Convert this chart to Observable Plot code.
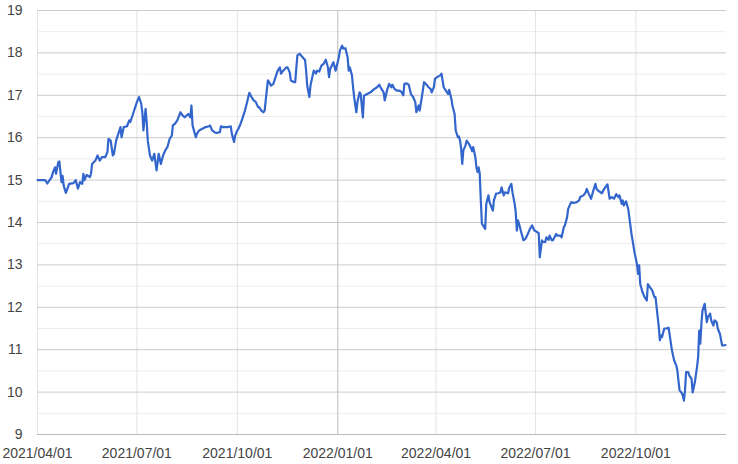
<!DOCTYPE html>
<html>
<head>
<meta charset="utf-8">
<script src="https://cdn.jsdelivr.net/npm/d3@7"></script>
<script src="https://cdn.jsdelivr.net/npm/@observablehq/plot@0.6"></script>
<style>
  html, body { margin: 0; padding: 0; background: #fff; }
  #chart { width: 738px; height: 464px; }
</style>
</head>
<body>
<div id="chart"></div>
<script>
const dates = [
  "2021-04-01","2021-04-08","2021-04-10","2021-04-14","2021-04-15","2021-04-17","2021-04-18","2021-04-20","2021-04-21","2021-04-23",
  "2021-04-24","2021-04-25","2021-04-27","2021-04-30","2021-05-04","2021-05-06","2021-05-08","2021-05-10","2021-05-12","2021-05-13",
  "2021-05-14","2021-05-16","2021-05-19","2021-05-20","2021-05-21","2021-05-24","2021-05-26","2021-05-28","2021-05-30","2021-06-02",
  "2021-06-04","2021-06-05","2021-06-07","2021-06-09","2021-06-10","2021-06-12","2021-06-14","2021-06-16","2021-06-17","2021-06-19",
  "2021-06-22","2021-06-24","2021-06-25","2021-06-28","2021-07-01","2021-07-03","2021-07-05","2021-07-06","2021-07-07","2021-07-09",
  "2021-07-10","2021-07-11","2021-07-13","2021-07-15","2021-07-17","2021-07-19","2021-07-21","2021-07-23","2021-07-25","2021-07-27",
  "2021-07-29","2021-07-31","2021-08-02","2021-08-03","2021-08-05","2021-08-07","2021-08-10","2021-08-12","2021-08-14","2021-08-17",
  "2021-08-19","2021-08-20","2021-08-21","2021-08-24","2021-08-25","2021-08-27","2021-08-30","2021-09-02","2021-09-05","2021-09-06",
  "2021-09-08","2021-09-10","2021-09-12","2021-09-15","2021-09-16","2021-09-18","2021-09-22","2021-09-25","2021-09-26","2021-09-28",
  "2021-09-29","2021-10-01","2021-10-02","2021-10-04","2021-10-06","2021-10-08","2021-10-10","2021-10-12","2021-10-14","2021-10-16",
  "2021-10-18","2021-10-20","2021-10-21","2021-10-23","2021-10-25","2021-10-26","2021-10-27","2021-10-29","2021-10-30","2021-11-01",
  "2021-11-03","2021-11-05","2021-11-07","2021-11-09","2021-11-10","2021-11-12","2021-11-15","2021-11-16","2021-11-18","2021-11-19",
  "2021-11-22","2021-11-23","2021-11-25","2021-11-27","2021-11-29","2021-12-01","2021-12-02","2021-12-03","2021-12-04","2021-12-06",
  "2021-12-07","2021-12-09","2021-12-10","2021-12-12","2021-12-13","2021-12-15","2021-12-17","2021-12-19","2021-12-21","2021-12-23",
  "2021-12-24","2021-12-25","2021-12-28","2021-12-30","2022-01-02","2022-01-03","2022-01-05","2022-01-06","2022-01-08","2022-01-10",
  "2022-01-11","2022-01-12","2022-01-14","2022-01-15","2022-01-16","2022-01-18","2022-01-19","2022-01-21","2022-01-22","2022-01-24",
  "2022-01-25","2022-01-28","2022-01-31","2022-02-03","2022-02-06","2022-02-08","2022-02-10","2022-02-12","2022-02-13","2022-02-15",
  "2022-02-17","2022-02-19","2022-02-20","2022-02-22","2022-02-24","2022-02-26","2022-02-28","2022-03-02","2022-03-03","2022-03-05",
  "2022-03-07","2022-03-09","2022-03-11","2022-03-13","2022-03-14","2022-03-16","2022-03-17","2022-03-19","2022-03-21","2022-03-24",
  "2022-03-25","2022-03-27","2022-03-28","2022-03-30","2022-03-31","2022-04-02","2022-04-05","2022-04-06","2022-04-08","2022-04-10",
  "2022-04-12","2022-04-13","2022-04-15","2022-04-16","2022-04-18","2022-04-19","2022-04-21","2022-04-22","2022-04-23","2022-04-24",
  "2022-04-25","2022-04-26","2022-04-28","2022-04-29","2022-05-01","2022-05-03","2022-05-04","2022-05-05","2022-05-07","2022-05-08",
  "2022-05-09","2022-05-10","2022-05-11","2022-05-12","2022-05-13","2022-05-14","2022-05-16","2022-05-17","2022-05-19","2022-05-20",
  "2022-05-23","2022-05-24","2022-05-26","2022-05-28","2022-05-30","2022-05-31","2022-06-02","2022-06-03","2022-06-06","2022-06-07",
  "2022-06-09","2022-06-10","2022-06-12","2022-06-13","2022-06-14","2022-06-15","2022-06-16","2022-06-18","2022-06-20","2022-06-22",
  "2022-06-24","2022-06-26","2022-06-28","2022-06-30","2022-07-01","2022-07-04","2022-07-05","2022-07-07","2022-07-08","2022-07-10",
  "2022-07-11","2022-07-13","2022-07-14","2022-07-16","2022-07-17","2022-07-20","2022-07-21","2022-07-24","2022-07-25","2022-07-27",
  "2022-07-28","2022-07-30","2022-07-31","2022-08-02","2022-08-03","2022-08-05","2022-08-08","2022-08-10","2022-08-11","2022-08-14",
  "2022-08-16","2022-08-17","2022-08-19","2022-08-21","2022-08-23","2022-08-25","2022-08-26","2022-08-28","2022-08-31","2022-09-01",
  "2022-09-04","2022-09-05","2022-09-07","2022-09-09","2022-09-11","2022-09-13","2022-09-15","2022-09-16","2022-09-18","2022-09-19",
  "2022-09-20","2022-09-22","2022-09-24","2022-09-25","2022-09-27","2022-09-29","2022-09-30","2022-10-02","2022-10-03","2022-10-04",
  "2022-10-05","2022-10-07","2022-10-09","2022-10-11","2022-10-12","2022-10-14","2022-10-16","2022-10-18","2022-10-19","2022-10-21",
  "2022-10-22","2022-10-23","2022-10-24","2022-10-25","2022-10-27","2022-10-29","2022-10-31","2022-11-01","2022-11-03","2022-11-05",
  "2022-11-07","2022-11-08","2022-11-09","2022-11-10","2022-11-12","2022-11-13","2022-11-14","2022-11-15","2022-11-16","2022-11-18",
  "2022-11-19","2022-11-21","2022-11-22","2022-11-24","2022-11-26","2022-11-27","2022-11-28","2022-11-29","2022-11-30","2022-12-01",
  "2022-12-03","2022-12-05","2022-12-06","2022-12-08","2022-12-09","2022-12-11","2022-12-12","2022-12-14","2022-12-15","2022-12-17",
  "2022-12-19","2022-12-20","2022-12-22"
];

const prices = [
  15.0,15.0,14.92,15.07,15.17,15.3,15.15,15.42,15.44,14.95,
  15.1,14.87,14.7,14.91,14.93,15.0,14.8,14.95,14.91,15.15,
  15.0,15.12,15.07,15.15,15.38,15.46,15.58,15.46,15.54,15.54,
  15.66,15.97,15.93,15.58,15.62,15.93,16.09,16.25,16.01,16.25,
  16.27,16.41,16.37,16.6,16.84,16.96,16.8,16.6,16.17,16.68,
  16.37,15.93,15.58,15.46,15.62,15.23,15.62,15.38,15.58,15.7,
  15.78,15.97,16.05,16.29,16.33,16.41,16.6,16.52,16.48,16.56,
  16.48,16.76,16.29,16.01,16.09,16.17,16.21,16.25,16.27,16.29,
  16.17,16.13,16.11,16.13,16.27,16.25,16.25,16.27,16.09,15.9,
  16.05,16.17,16.21,16.33,16.48,16.64,16.84,17.06,16.96,16.88,
  16.84,16.72,16.72,16.64,16.6,16.64,16.88,17.35,17.31,17.23,
  17.27,17.43,17.58,17.66,17.51,17.58,17.66,17.66,17.54,17.35,
  17.31,17.31,17.94,17.98,17.92,17.86,17.84,17.58,17.23,16.96,
  17.23,17.47,17.58,17.51,17.58,17.56,17.7,17.74,17.84,17.66,
  17.43,17.62,17.78,17.58,17.9,18.06,18.17,18.1,18.11,17.9,
  17.58,17.66,17.47,17.19,16.96,16.6,16.84,17.07,17.03,16.48,
  16.99,17.03,17.07,17.14,17.19,17.25,17.15,17.07,16.88,17.11,
  17.27,17.19,17.25,17.15,17.11,17.11,17.09,17.0,17.27,17.28,
  17.25,17.03,16.96,16.84,16.6,16.76,16.64,16.96,17.31,17.23,
  17.19,17.15,17.07,17.19,17.39,17.43,17.47,17.51,17.19,17.11,
  17.03,17.13,16.92,16.76,16.56,16.17,16.01,16.03,15.93,15.74,
  15.38,15.7,15.82,15.93,15.86,15.76,15.68,15.78,15.54,15.3,
  15.19,15.3,15.15,14.52,13.97,13.93,13.85,14.44,14.64,14.48,
  14.28,14.52,14.68,14.69,14.71,14.83,14.64,14.71,14.69,14.82,
  14.91,14.71,14.44,14.24,13.81,14.05,13.97,13.77,13.58,13.62,
  13.73,13.85,13.93,13.81,13.8,13.75,13.18,13.58,13.54,13.54,
  13.65,13.59,13.69,13.58,13.58,13.73,13.69,13.69,13.65,13.89,
  13.93,14.12,14.32,14.44,14.48,14.46,14.48,14.52,14.6,14.64,
  14.71,14.79,14.67,14.56,14.75,14.91,14.79,14.74,14.69,14.75,
  14.87,14.9,14.56,14.6,14.56,14.67,14.6,14.64,14.44,14.52,
  14.4,14.5,14.32,14.12,13.73,13.42,13.26,13.02,12.79,12.99,
  12.55,12.36,12.24,12.16,12.55,12.47,12.4,12.24,12.24,11.77,
  11.53,11.22,11.34,11.3,11.5,11.5,11.52,11.34,10.99,10.75,
  10.63,10.51,10.27,10.04,9.98,9.92,9.8,10.04,10.47,10.47,
  10.39,10.31,9.99,10.23,10.59,10.82,11.45,11.14,11.61,11.92,
  12.08,11.65,11.77,11.85,11.69,11.57,11.69,11.65,11.5,11.37,
  11.1,11.1,11.11
];

const yTicks = [9, 10, 11, 12, 13, 14, 15, 16, 17, 18, 19];
const yMinorTicks = [9.5, 10.5, 11.5, 12.5, 13.5, 14.5, 15.5, 16.5, 17.5, 18.5];
const xTickLabels = ["2021-04-01", "2021-07-01", "2021-10-01", "2022-01-01", "2022-04-01", "2022-07-01", "2022-10-01"];
const yearStart = ["2022-01-01"];
const xDomain = ["2021-04-01", "2022-12-23"];

const parse = d3.utcParse("%Y-%m-%d");
const data = dates.map((d, i) => ({date: parse(d), value: prices[i]}));
const xTicks = xTickLabels.map(parse);
const yearTicks = yearStart.map(parse);
const quarterTicks = xTicks.filter(t => !yearTicks.some(y => +y === +t));

const chart = Plot.plot({
  width: 738,
  height: 464,
  marginLeft: 37,
  marginRight: 12,
  marginTop: 10,
  marginBottom: 30,
  style: {
    fontFamily: "Arial, 'Liberation Sans', sans-serif",
    fontSize: "14px",
    color: "#444",
    background: "#fff"
  },
  x: {type: "utc", domain: xDomain.map(parse), label: null},
  y: {domain: [9, 19], label: null},
  marks: [
    Plot.ruleY(yMinorTicks, {stroke: "#ececec", strokeWidth: 1}),
    Plot.ruleX(quarterTicks, {stroke: "#e3e3e3", strokeWidth: 1}),
    Plot.ruleY(yTicks.filter(t => t !== 9), {stroke: "#cccccc", strokeWidth: 1}),
    Plot.ruleX(yearTicks, {stroke: "#bdbdbd", strokeWidth: 1}),
    Plot.ruleY([9], {stroke: "#bbbbbb", strokeWidth: 1}),
    Plot.line(data, {x: "date", y: "value", stroke: "#3366cc", strokeWidth: 2.2, strokeLinejoin: "round"}),
    Plot.axisY({ticks: yTicks, tickSize: 0, tickPadding: 15, tickFormat: d => String(d), fill: "#444", label: null}),
    Plot.axisX({ticks: xTicks, tickSize: 0, tickPadding: 14, tickFormat: d3.utcFormat("%Y/%m/%d"), fill: "#444", label: null})
  ]
});

document.getElementById("chart").appendChild(chart);
</script>
</body>
</html>
